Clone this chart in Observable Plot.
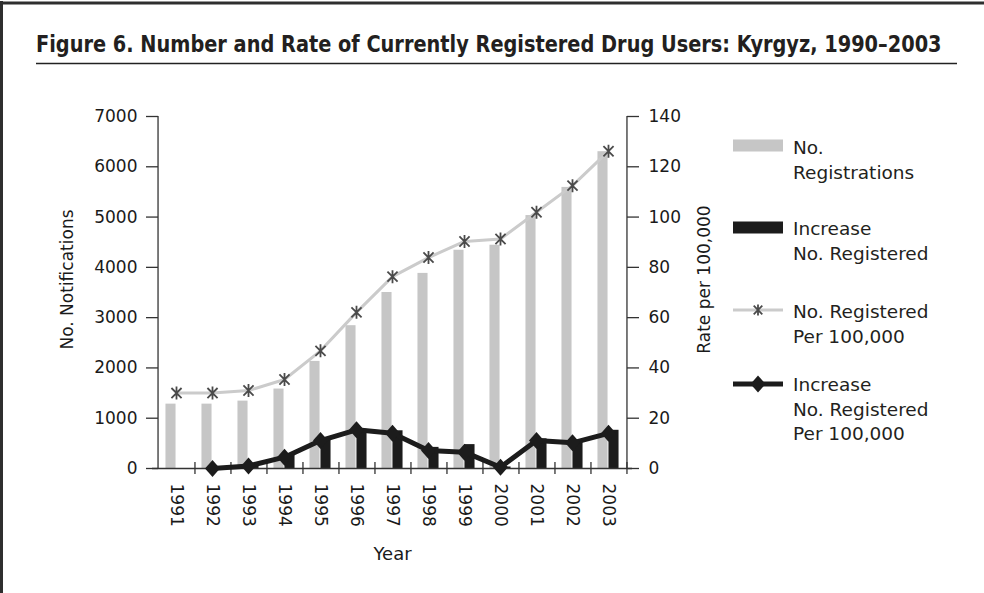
<!DOCTYPE html>
<html><head><meta charset="utf-8">
<script src="https://cdn.jsdelivr.net/npm/d3@7"></script>
<script src="https://cdn.jsdelivr.net/npm/@observablehq/plot@0.6"></script>
<style>
html,body{margin:0;padding:0;background:#fff;overflow:hidden;}
#page{position:relative;width:984px;height:593px;overflow:hidden;background:#fff;}
#chart{position:absolute;left:0;top:0;}
#overlay{position:absolute;left:0;top:0;display:block;}
</style></head><body>
<div id="page"><div id="chart"></div><svg id="overlay" width="984" height="593"></svg></div>
<script>
// ---- data ----
const years = [1991,1992,1993,1994,1995,1996,1997,1998,1999,2000,2001,2002,2003];
const registrations = [1280,1280,1340,1580,2130,2840,3500,3880,4340,4440,5030,5590,6300];
const increaseRegistered = [null,0,50,270,600,780,750,420,475,30,590,565,760];
const ratePer100k = [30,30,31,35.4,46.8,62.1,76.3,83.9,90.3,91.3,101.9,112.5,126.2];
const increasePer100k = [null,0,1,4.5,11.1,15.4,14,7.2,6.5,0.5,11.1,10.2,14];
const leftTicks = [0,1000,2000,3000,4000,5000,6000,7000];
const leftMax = 7000, rightMax = 140;
const titleText = "Figure 6.  Number and Rate of Currently Registered Drug Users: Kyrgyz, 1990\u20132003";
const yLabelLeft = "No. Notifications";
const yLabelRight = "Rate per 100,000";
const xLabel = "Year";
const legendLabels = [["No.","Registrations"],["Increase","No. Registered"],["No. Registered","Per 100,000"],["Increase","No. Registered","Per 100,000"]];

// ---- layout / style ----
const W = 984, H = 593;
const mL = 152, mR = 352, mT = 116, mB = 125;
const bw = (W - mL - mR) / years.length;
const barW = 11;
const k = leftMax / rightMax;
const font = "'DejaVu Sans', sans-serif";
const cGrayBar = "#c6c6c6", cBlack = "#1c1c1c", cGrayLine = "#cbcbcb", cStar = "#4a4a4a", cAxis = "#333";

const data = years.map((year, i) => ({year, reg: registrations[i], inc: increaseRegistered[i], rate: ratePer100k[i], incRate: increasePer100k[i]}));
const incData = data.filter(d => d.inc != null);

const starSymbol = {draw(ctx, size) {
  const r = Math.sqrt(size / Math.PI), d = r * 0.78;
  ctx.moveTo(0, -r); ctx.lineTo(0, r);
  ctx.moveTo(-d, -d); ctx.lineTo(d, d);
  ctx.moveTo(-d, d); ctx.lineTo(d, -d);
}};
const diamondSymbol = {draw(ctx, size) {
  const r = Math.sqrt(size / Math.PI), w = r * 0.88;
  ctx.moveTo(0, -r); ctx.lineTo(w, 0); ctx.lineTo(0, r); ctx.lineTo(-w, 0); ctx.closePath();
}};

const chart = Plot.plot({
  width: W, height: H, marginLeft: mL, marginRight: mR, marginTop: mT, marginBottom: mB,
  style: {fontFamily: font, fontSize: "17px", color: "#1a1a1a", background: "transparent", overflow: "visible"},
  x: {type: "band", domain: years, padding: 0, axis: null, label: null},
  y: {domain: [0, leftMax], axis: null, label: null},
  marks: [
    Plot.barY(data, {x: "year", y: "reg", fill: cGrayBar, insetLeft: bw / 2 - barW, insetRight: bw / 2}),
    Plot.barY(incData, {x: "year", y: "inc", fill: cBlack, insetLeft: bw / 2, insetRight: bw / 2 - barW}),
    Plot.ruleX([years[0]], {dx: -bw / 2, stroke: cAxis, strokeWidth: 1.3}),
    Plot.ruleX([years[years.length - 1]], {dx: bw / 2, stroke: cAxis, strokeWidth: 1.3}),
    Plot.ruleY([0], {stroke: cAxis, strokeWidth: 1.3}),
    Plot.axisY({anchor: "left", ticks: leftTicks, tickFormat: d => String(d), label: null, tickSize: 12, dx: 6, tickPadding: 9, stroke: cAxis, strokeWidth: 1.3, fontSize: 17}),
    Plot.axisY({anchor: "right", ticks: leftTicks, tickFormat: d => String(d / k), label: null, tickSize: 12, dx: -6, tickPadding: 10, stroke: cAxis, strokeWidth: 1.3, fontSize: 17}),
    Plot.axisX({anchor: "bottom", tickSize: 12, dy: -6, dx: bw / 2, tickFormat: () => "", label: null, stroke: cAxis, strokeWidth: 1.3}),
    Plot.axisX({anchor: "bottom", tickSize: 0, tickRotate: 90, textAnchor: "start", lineAnchor: "middle", tickPadding: 15, tickFormat: d => String(d), label: null, fontSize: 17}),
    Plot.line(data, {x: "year", y: d => d.rate * k, stroke: cGrayLine, strokeWidth: 3}),
    Plot.dot(data, {x: "year", y: d => d.rate * k, symbol: starSymbol, r: 6.5, stroke: cStar, strokeWidth: 1.8, fill: "none"}),
    Plot.line(incData, {x: "year", y: d => d.incRate * k, stroke: cBlack, strokeWidth: 5}),
    Plot.dot(incData, {x: "year", y: d => d.incRate * k, symbol: diamondSymbol, r: 8.5, fill: cBlack, stroke: "none"}),
    Plot.text([yLabelLeft], {frameAnchor: "left", textAnchor: "middle", lineAnchor: "middle", dx: -85, dy: -13, rotate: -90, fontSize: 17, fill: "#1a1a1a"}),
    Plot.text([yLabelRight], {frameAnchor: "right", textAnchor: "middle", lineAnchor: "middle", dx: 72, dy: -13, rotate: -90, fontSize: 17, fill: "#1a1a1a"}),
    Plot.text([xLabel], {frameAnchor: "bottom", textAnchor: "middle", lineAnchor: "middle", dy: 86, fontSize: 18, fill: "#1a1a1a"})
  ]
});
document.getElementById("chart").appendChild(chart);

// ---- title, frame & legend overlay ----
const ov = d3.select("#overlay");
ov.append("rect").attr("x", 972).attr("y", 6).attr("width", 12).attr("height", 587).attr("fill", "#fff");
ov.append("line").attr("x1", 1.5).attr("x2", 1.5).attr("y1", 1).attr("y2", 593).attr("stroke", "#2e2e2e").attr("stroke-width", 3);
ov.append("line").attr("x1", 0).attr("x2", 984).attr("y1", 3).attr("y2", 3).attr("stroke", "#2e2e2e").attr("stroke-width", 3);
const title = ov.append("text")
  .attr("font-family", "'DejaVu Sans Condensed', 'DejaVu Sans', sans-serif")
  .attr("font-stretch", "condensed").attr("font-weight", "bold").attr("font-size", 23)
  .attr("fill", "#231f20").text(titleText);
const tw = title.node().getComputedTextLength();
title.attr("transform", `translate(36,52) scale(${906 / tw},1)`);
ov.append("line").attr("x1", 36).attr("x2", 957).attr("y1", 63.5).attr("y2", 63.5)
  .attr("stroke", "#222").attr("stroke-width", 1.5);

const lx = 733, sw = 50, tx = 793, lh = 24.5;
const swatchY = [145.5, 227.5, 310, 384];
const textY = [154, 235, 318, 391];
ov.append("rect").attr("x", lx).attr("y", swatchY[0] - 6).attr("width", sw).attr("height", 12).attr("fill", cGrayBar);
ov.append("rect").attr("x", lx).attr("y", swatchY[1] - 6).attr("width", sw).attr("height", 12).attr("fill", cBlack);
ov.append("line").attr("x1", lx).attr("x2", lx + sw).attr("y1", swatchY[2]).attr("y2", swatchY[2]).attr("stroke", cGrayLine).attr("stroke-width", 3);
ov.append("path").attr("transform", `translate(${lx + sw / 2},${swatchY[2]})`)
  .attr("d", d3.symbol(starSymbol, Math.PI * 5.5 * 5.5)()).attr("stroke", cStar).attr("stroke-width", 1.8).attr("fill", "none");
ov.append("line").attr("x1", lx).attr("x2", lx + sw).attr("y1", swatchY[3]).attr("y2", swatchY[3]).attr("stroke", cBlack).attr("stroke-width", 5);
ov.append("path").attr("transform", `translate(${lx + sw / 2},${swatchY[3]})`)
  .attr("d", d3.symbol(diamondSymbol, Math.PI * 8.5 * 8.5)()).attr("fill", cBlack);
legendLabels.forEach((lines, i) => {
  const t = ov.append("text").attr("font-family", font).attr("font-size", 18.5).attr("fill", "#231f20");
  lines.forEach((s, j) => t.append("tspan").attr("x", tx).attr("y", textY[i] + j * lh).text(s));
});
</script>
</body></html>
